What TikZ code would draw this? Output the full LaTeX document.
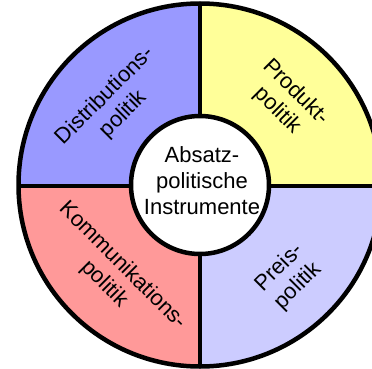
\documentclass[tikz,border=0pt]{standalone}
\usepackage{fontspec}
\setmainfont{Liberation Sans}
\usepackage{xcolor}
\definecolor{distblue}{HTML}{9999FF}
\definecolor{produktyellow}{HTML}{FFFF99}
\definecolor{kommred}{HTML}{FF9999}
\definecolor{preislilac}{HTML}{CCCCFF}

\begin{document}
\begin{tikzpicture}[x=1pt, y=1pt,
    segtext/.style={align=center, inner sep=0pt, font=\fontsize{22}{26}\selectfont}]
    \useasboundingbox (0,0) rectangle (372,368);
    \clip (0,0) rectangle (372,368);
    \coordinate (c) at (200,183);

    % Quadrants
    \fill[distblue] (c) -- ++(90:182) arc (90:180:182) -- cycle;
    \fill[produktyellow] (c) -- ++(0:182) arc (0:90:182) -- cycle;
    \fill[kommred] (c) -- ++(180:182) arc (180:270:182) -- cycle;
    \fill[preislilac] (c) -- ++(270:182) arc (270:360:182) -- cycle;

    % Dividers
    \draw[line width=4.5pt] ([shift={(-182,-1)}]c) -- ([shift={(182,-1)}]c);
    \draw[line width=4.5pt] ([yshift=-182]c) -- ([yshift=182]c);

    % Inner circle and outer ring
    \draw[line width=4.5pt, fill=white] (c) circle (69);
    \draw[line width=4.5pt] (c) circle (181.5);

    % Labels
    \node[segtext] (absatz) at ([shift={(2,4)}]c) {Absatz-\\politische\\Instrumente};
    \node[segtext, rotate=45] (dist) at ([shift={(137:117)}]c) {Distributions-\\politik};
    \node[segtext, rotate=-45] (produkt) at ([shift={(44:120)}]c) {Produkt-\\politik};
    \node[segtext, rotate=-45] (komm) at ([shift={(226:125)}]c) {Kommunikations-\\politik};
    \node[segtext, rotate=45] (preis) at ([shift={(314:128)}]c) {Preis-\\politik};
\end{tikzpicture}
\end{document}
